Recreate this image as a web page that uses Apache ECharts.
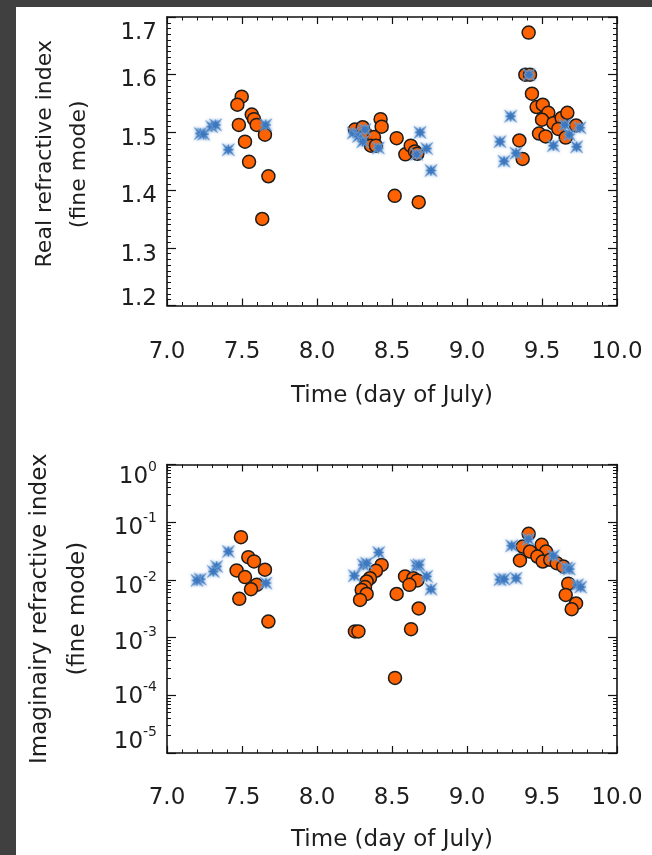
<!DOCTYPE html>
<html><head><meta charset="utf-8">
<script src="https://cdn.jsdelivr.net/npm/echarts@6/dist/echarts.min.js"></script>
<style>
html,body{margin:0;padding:0;background:#404040;width:652px;height:855px;overflow:hidden}
#c{position:absolute;left:16px;top:7px;width:636px;height:848px;background:#fff}
</style></head><body><div id="c"></div>
<script>
// ---- tick labels ----
const timeTicks = [7.0, 7.5, 8.0, 8.5, 9.0, 9.5, 10.0];
const realTicks = [1.2, 1.3, 1.4, 1.5, 1.6, 1.7];
const imagTicks = [1e-5, 1e-4, 1e-3, 1e-2, 1e-1, 1];

// ---- data: [day of July, value] ----
const realOrange = [
  [7.498,1.562],[7.469,1.548],[7.565,1.531],[7.580,1.523],[7.598,1.513],[7.479,1.513],[7.653,1.496],[7.520,1.484],[7.547,1.449],[7.676,1.424],[7.635,1.350],
  [8.253,1.505],[8.305,1.509],[8.331,1.496],[8.380,1.492],[8.360,1.477],[8.393,1.477],[8.424,1.523],[8.431,1.510],[8.531,1.490],[8.589,1.462],[8.625,1.477],[8.653,1.467],[8.669,1.463],[8.518,1.390],[8.678,1.379],
  [9.411,1.673],[9.389,1.600],[9.420,1.600],[9.433,1.567],[9.464,1.544],[9.505,1.548],[9.542,1.534],[9.500,1.522],[9.576,1.516],[9.631,1.525],[9.669,1.534],[9.609,1.506],[9.727,1.512],[9.480,1.498],[9.524,1.493],[9.658,1.491],[9.349,1.486],[9.371,1.454]
];
const realBlue = [
  [7.222,1.498],[7.244,1.497],[7.298,1.510],[7.324,1.513],[7.409,1.470],[7.658,1.513],
  [8.242,1.499],[8.276,1.493],[8.320,1.505],[8.305,1.484],[8.409,1.473],[8.687,1.500],[8.731,1.472],[8.664,1.462],[8.760,1.434],
  [9.291,1.528],[9.220,1.484],[9.327,1.464],[9.247,1.450],[9.413,1.600],[9.576,1.477],[9.731,1.475],[9.653,1.513],[9.682,1.496],[9.753,1.508]
];
const imagOrange = [
  [7.493,0.055],[7.542,0.0248],[7.580,0.0209],[7.653,0.015],[7.464,0.0146],[7.520,0.0112],[7.598,0.0082],[7.560,0.0069],[7.482,0.0047],[7.676,0.0019],
  [8.431,0.0182],[8.393,0.0144],[8.353,0.0107],[8.331,0.0094],[8.320,0.0075],[8.298,0.0067],[8.331,0.0057],[8.287,0.0045],[8.253,0.00128],[8.276,0.00128],[8.531,0.0057],[8.587,0.0115],[8.642,0.0107],[8.669,0.0098],[8.616,0.0082],[8.678,0.0032],[8.627,0.0014],[8.520,0.0002],
  [9.411,0.0628],[9.371,0.0379],[9.353,0.0217],[9.420,0.031],[9.498,0.0405],[9.527,0.031],[9.469,0.0254],[9.505,0.0208],[9.555,0.0223],[9.598,0.0195],[9.642,0.0171],[9.675,0.0086],[9.658,0.0055],[9.727,0.0039],[9.698,0.0031]
];
const imagBlue = [
  [7.409,0.031],[7.331,0.0171],[7.309,0.014],[7.222,0.0103],[7.200,0.0098],[7.660,0.0088],
  [8.249,0.0118],[8.309,0.0182],[8.331,0.0194],[8.411,0.0298],[8.664,0.0176],[8.680,0.0182],[8.731,0.0115],[8.760,0.0069],
  [9.298,0.039],[9.220,0.0101],[9.247,0.0103],[9.327,0.0107],[9.409,0.0508],[9.576,0.0261],[9.664,0.016],[9.682,0.0154],[9.736,0.0082],[9.758,0.0075]
];

// ---- styling ----
const FONT = 'DejaVu Sans';
const TXT = '#1e1e1e';
const AXC = '#111';
const FS = 23;

// minor log ticks (2..9 x 10^k)
const imagMinor = [];
for (let k = -5; k < 0; k++) for (let m = 2; m <= 9; m++) imagMinor.push(m * Math.pow(10, k));

// per-label vertical shift (IDL-like label placement)
const realShift = {12: -6, 13: 7, 14: 6, 15: 7, 16: 5, 17: 16};
const realRich = {};
Object.keys(realShift).forEach(k => {
  const d = realShift[k];
  realRich['r' + k] = {fontSize: FS, fontFamily: FONT, color: TXT, lineHeight: FS,
    padding: [Math.max(0, 2 * d), 0, Math.max(0, -2 * d), 0]};
});
const imagShift = {0: 13, 1: 6, 2: 7, 3: 5, 4: 2, 5: -11};
const imagRich = {};
Object.keys(imagShift).forEach(k => {
  const d = imagShift[k];
  imagRich['b' + k] = d >= 0
    ? {fontSize: FS, fontFamily: FONT, color: TXT, lineHeight: FS, verticalAlign: 'top', padding: [d, 0, 0, 0]}
    : {fontSize: FS, fontFamily: FONT, color: TXT, lineHeight: FS, verticalAlign: 'bottom', padding: [0, 0, -d, 0]};
  imagRich['s' + k] = {fontSize: 14, fontFamily: FONT, color: TXT, lineHeight: 14, verticalAlign: 'bottom',
    padding: [0, 0, 14.5 - d, 0]};
});

const starPath = 'path://M1,1L8.0,5.8L10,2L12.0,5.8L19,1L14.2,8.0L18,10L14.2,12.0L19,19L12.0,14.2L10,18L8.0,14.2L1,19L5.8,12.0L2,10L5.8,8.0Z';

function xAxes(gridIndex, margin, gap) {
  const common = {
    type: 'value', gridIndex, min: 7, max: 10, interval: 0.5,
    axisLine: {show: true, onZero: false, lineStyle: {color: AXC, width: 1.6}},
    axisTick: {show: true, inside: true, length: 7, lineStyle: {color: AXC, width: 1.2}},
    minorTick: {show: true, splitNumber: 5, length: 3.5, lineStyle: {color: AXC, width: 1}},
    splitLine: {show: false}
  };
  return [
    Object.assign({}, common, {
      position: 'bottom',
      axisLabel: {show: true, margin, fontSize: FS, fontFamily: FONT, color: TXT,
        customValues: timeTicks, formatter: v => v.toFixed(1)},
      name: 'Time (day of July)', nameLocation: 'middle', nameGap: gap,
      nameTextStyle: {fontSize: FS, fontFamily: FONT, color: TXT}
    }),
    Object.assign({}, common, {position: 'top', axisLabel: {show: false}})
  ];
}

function realYAxes() {
  const common = {
    type: 'value', gridIndex: 0, min: 1.2, max: 1.7, interval: 0.1,
    axisLine: {show: true, onZero: false, lineStyle: {color: AXC, width: 1.6}},
    axisTick: {show: true, inside: true, length: 9, lineStyle: {color: AXC, width: 1.2}},
    minorTick: {show: true, splitNumber: 10, length: 4, lineStyle: {color: AXC, width: 1}},
    splitLine: {show: false}
  };
  return [
    Object.assign({}, common, {
      position: 'left',
      axisLabel: {show: true, margin: 10, customValues: realTicks,
        formatter: v => '{r' + Math.round(v * 10) + '|' + v.toFixed(1) + '}', rich: realRich},
      name: '{a|Real refractive index}\n{b|(fine mode)}', nameLocation: 'middle', nameGap: 71,
      nameTextStyle: {fontSize: 22, fontFamily: FONT, color: TXT, lineHeight: 34,
        rich: {
          a: {fontSize: 22, fontFamily: FONT, color: TXT, lineHeight: 34, padding: [0, 0, 0, 15]},
          b: {fontSize: 22, fontFamily: FONT, color: TXT, lineHeight: 34, padding: [0, 6, 0, 0]}
        }}
    }),
    Object.assign({}, common, {position: 'right', axisLabel: {show: false}})
  ];
}

function imagYAxes() {
  const common = {
    type: 'log', logBase: 10, gridIndex: 1, min: 1e-5, max: 1,
    splitLine: {show: false}, minorTick: {show: false}
  };
  const major = {
    axisLine: {show: true, onZero: false, lineStyle: {color: AXC, width: 1.6}},
    axisTick: {show: true, inside: true, length: 9, customValues: imagTicks, lineStyle: {color: AXC, width: 1.2}}
  };
  const minor = {
    axisLine: {show: false},
    axisTick: {show: true, inside: true, length: 4, customValues: imagMinor, lineStyle: {color: AXC, width: 1}},
    axisLabel: {show: false}
  };
  return [
    Object.assign({}, common, major, {
      position: 'left',
      axisLabel: {show: true, margin: 10, customValues: imagTicks,
        formatter: v => {
          const e = Math.round(Math.log10(v));
          return '{b' + (-e) + '|10}{s' + (-e) + '|' + e + '}';
        }, rich: imagRich},
      name: 'Imaginairy refractive index\n(fine mode)', nameLocation: 'middle', nameGap: 70,
      nameTextStyle: {fontSize: FS, fontFamily: FONT, color: TXT, lineHeight: 38}
    }),
    Object.assign({}, common, minor, {position: 'left'}),
    Object.assign({}, common, major, {position: 'right', axisLabel: {show: false}}),
    Object.assign({}, common, minor, {position: 'right'})
  ];
}

const orangeStyle = {color: '#ff6200', borderColor: '#1c1c1c', borderWidth: 1.5, opacity: 1};
const blueStyle = {color: '#3d78bf', borderColor: 'rgba(120,165,215,0.8)', borderWidth: 0.8, opacity: 1,
  shadowBlur: 3, shadowColor: 'rgba(80,135,200,0.7)'};

const chart = echarts.init(document.getElementById('c'), null, {renderer: 'canvas'});
chart.setOption({
  animation: false,
  backgroundColor: '#ffffff',
  grid: [
    {left: 151, top: 10, width: 450, height: 288.5, containLabel: false, outerBoundsMode: 'none'},
    {left: 151, top: 457.5, width: 450, height: 288.5, containLabel: false, outerBoundsMode: 'none'}
  ],
  xAxis: [].concat(xAxes(0, 35.5, 79.5), xAxes(1, 33.5, 76)),
  yAxis: [].concat(realYAxes(), imagYAxes()),
  series: [
    {type: 'scatter', xAxisIndex: 0, yAxisIndex: 0, data: realOrange, symbol: 'circle', symbolSize: 13, itemStyle: orangeStyle, z: 2},
    {type: 'scatter', xAxisIndex: 0, yAxisIndex: 0, data: realBlue, symbol: starPath, symbolSize: 12, itemStyle: blueStyle, z: 3},
    {type: 'scatter', xAxisIndex: 2, yAxisIndex: 2, data: imagOrange, symbol: 'circle', symbolSize: 13, itemStyle: orangeStyle, z: 2},
    {type: 'scatter', xAxisIndex: 2, yAxisIndex: 2, data: imagBlue, symbol: starPath, symbolSize: 12, itemStyle: blueStyle, z: 3}
  ]
});
</script></body></html>
